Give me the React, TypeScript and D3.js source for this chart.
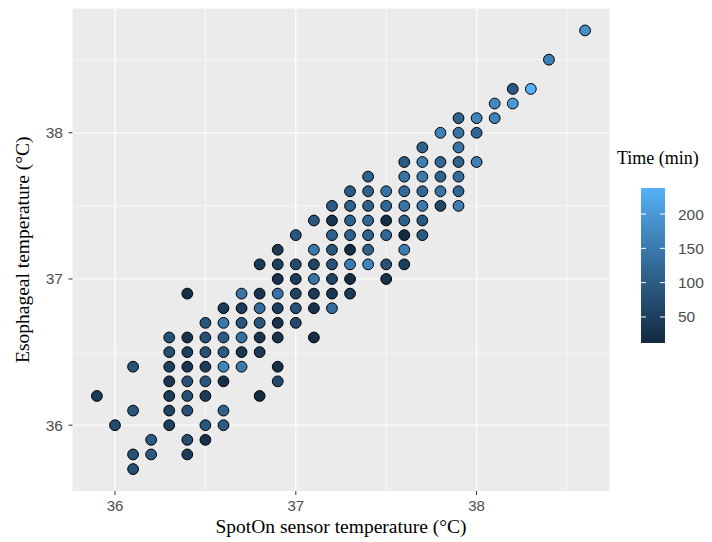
import * as d3 from "d3";

// esophageal temperature rows (°C), with spotOn readings and time (min) for each point in the row
const esoRows = [
  35.7, 35.8, 35.9, 36.0, 36.1, 36.2, 36.3, 36.4, 36.5, 36.6, 36.7, 36.8, 36.9,
  37.0, 37.1, 37.2, 37.3, 37.4, 37.5, 37.6, 37.7, 37.8, 37.9, 38.0, 38.1, 38.2,
  38.3, 38.5, 38.7,
];

const spotByRow = [
  [36.1],
  [36.1, 36.2, 36.4],
  [36.2, 36.4, 36.5],
  [36.0, 36.3, 36.5, 36.6],
  [36.1, 36.3, 36.4, 36.6],
  [35.9, 36.3, 36.4, 36.5, 36.8],
  [36.3, 36.4, 36.5, 36.6, 36.9],
  [36.1, 36.3, 36.4, 36.5, 36.6, 36.7, 36.9],
  [36.3, 36.4, 36.5, 36.6, 36.7, 36.8],
  [36.3, 36.4, 36.5, 36.6, 36.7, 36.8, 36.9, 37.1],
  [36.5, 36.6, 36.7, 36.8, 36.9, 37.0],
  [36.6, 36.7, 36.8, 36.9, 37.0, 37.1, 37.2],
  [36.4, 36.7, 36.8, 36.9, 37.0, 37.1, 37.2, 37.3],
  [36.9, 37.0, 37.1, 37.2, 37.3, 37.5],
  [36.8, 36.9, 37.0, 37.1, 37.2, 37.3, 37.4, 37.5, 37.6],
  [36.9, 37.1, 37.2, 37.3, 37.4, 37.6],
  [37.0, 37.2, 37.3, 37.4, 37.5, 37.6, 37.7],
  [37.1, 37.2, 37.3, 37.4, 37.5, 37.6, 37.7],
  [37.2, 37.3, 37.4, 37.5, 37.6, 37.7, 37.8, 37.9],
  [37.3, 37.4, 37.5, 37.6, 37.7, 37.8, 37.9],
  [37.4, 37.6, 37.7, 37.8, 37.9],
  [37.6, 37.7, 37.8, 37.9, 38.0],
  [37.7, 37.9],
  [37.8, 37.9, 38.0],
  [37.9, 38.0, 38.1],
  [38.1, 38.2],
  [38.2, 38.3],
  [38.4],
  [38.6],
];

const timeByRow = [
  [80],
  [80, 100, 45],
  [100, 75, 25],
  [70, 50, 90, 100],
  [90, 55, 80, 110],
  [40, 45, 80, 40, 15],
  [35, 80, 90, 20, 70],
  [85, 50, 30, 45, 170, 150, 20],
  [80, 50, 80, 100, 35, 40],
  [80, 25, 80, 100, 135, 30, 30, 18],
  [90, 150, 90, 90, 25, 70],
  [40, 40, 130, 50, 80, 25, 130],
  [20, 140, 30, 140, 55, 40, 35, 40],
  [25, 45, 145, 55, 15, 25],
  [40, 50, 70, 60, 85, 155, 170, 80, 50],
  [40, 150, 90, 15, 110, 160],
  [90, 110, 110, 110, 120, 12, 100],
  [90, 30, 110, 120, 18, 110, 90],
  [100, 110, 110, 120, 140, 150, 65, 160],
  [100, 110, 140, 130, 120, 140, 120],
  [110, 140, 150, 110, 130],
  [100, 160, 120, 110, 160],
  [110, 140],
  [165, 140, 120],
  [115, 170, 165],
  [175, 200],
  [100, 238],
  [165],
  [185],
];

const xTicks = [36, 37, 38];
const yTicks = [36, 37, 38];
const legendTicks = [50, 100, 150, 200];

const W = 712;
const H = 542;
const panel = { left: 72.5, right: 609.5, top: 8.5, bottom: 491 };
const sans = "'Liberation Sans', Arial, sans-serif";
const serif = "'Liberation Serif', 'Times New Roman', serif";
const tickCol = "#4D4D4D";

const points = esoRows.flatMap((eso, i) =>
  spotByRow[i].map((spot, j) => ({ spot, eso, time: timeByRow[i][j] }))
);

// ggplot-like 5% expansion
const expand = (ext: [number, number]) => {
  const pad = (ext[1] - ext[0]) * 0.05;
  return [ext[0] - pad, ext[1] + pad];
};

const App = () => {
  const x = d3
    .scaleLinear()
    .domain(expand(d3.extent(points, (d) => d.spot) as [number, number]))
    .range([panel.left, panel.right]);
  const y = d3
    .scaleLinear()
    .domain(expand(d3.extent(points, (d) => d.eso) as [number, number]))
    .range([panel.bottom, panel.top]);

  const tExt = d3.extent(points, (d) => d.time) as [number, number];
  const color = d3
    .scaleLinear<string>()
    .domain(tExt)
    .range(["#132B43", "#56B1F7"])
    .interpolate(d3.interpolateLab);

  // minor grid lines halfway between majors
  const xMinor = [35.5, 36.5, 37.5, 38.5].filter(
    (v) => v > x.domain()[0] && v < x.domain()[1]
  );
  const yMinor = [35.5, 36.5, 37.5, 38.5].filter(
    (v) => v > y.domain()[0] && v < y.domain()[1]
  );

  // legend colourbar
  const bar = { x: 641, w: 24, top: 188, bottom: 343 };
  const ly = d3.scaleLinear().domain(tExt).range([bar.bottom, bar.top]);
  const stops = d3.range(0, 1.0001, 0.1);

  return (
    <div style={{ position: "absolute", left: 0, top: 0 }}>
      <svg width={W} height={H} style={{ display: "block", background: "#fff" }}>
        <defs>
          <linearGradient id="tgrad" x1="0" y1="1" x2="0" y2="0">
            {stops.map((s) => (
              <stop key={s} offset={s} stopColor={color(tExt[0] + s * (tExt[1] - tExt[0]))} />
            ))}
          </linearGradient>
        </defs>

        <rect
          x={panel.left}
          y={panel.top}
          width={panel.right - panel.left}
          height={panel.bottom - panel.top}
          fill="#EBEBEB"
        />
        {xMinor.map((v) => (
          <line key={"xm" + v} x1={x(v)} x2={x(v)} y1={panel.top} y2={panel.bottom} stroke="#fff" strokeWidth={0.6} />
        ))}
        {yMinor.map((v) => (
          <line key={"ym" + v} x1={panel.left} x2={panel.right} y1={y(v)} y2={y(v)} stroke="#fff" strokeWidth={0.6} />
        ))}
        {xTicks.map((v) => (
          <line key={"xg" + v} x1={x(v)} x2={x(v)} y1={panel.top} y2={panel.bottom} stroke="#fff" strokeWidth={1.2} />
        ))}
        {yTicks.map((v) => (
          <line key={"yg" + v} x1={panel.left} x2={panel.right} y1={y(v)} y2={y(v)} stroke="#fff" strokeWidth={1.2} />
        ))}

        {points.map((d, i) => (
          <circle
            key={i}
            cx={x(d.spot)}
            cy={y(d.eso)}
            r={5.4}
            fill={color(d.time)}
            stroke="#000"
            strokeWidth={1}
          />
        ))}

        {/* axes */}
        {xTicks.map((v) => (
          <g key={"xt" + v}>
            <line x1={x(v)} x2={x(v)} y1={panel.bottom} y2={panel.bottom + 4} stroke="#333" strokeWidth={1} />
            <text x={x(v)} y={510.5} textAnchor="middle" fontFamily={sans} fontSize={15} fill={tickCol}>
              {v}
            </text>
          </g>
        ))}
        {yTicks.map((v) => (
          <g key={"yt" + v}>
            <line x1={panel.left - 4} x2={panel.left} y1={y(v)} y2={y(v)} stroke="#333" strokeWidth={1} />
            <text x={63} y={y(v) + 5.5} textAnchor="end" fontFamily={sans} fontSize={15.5} fill={tickCol}>
              {v}
            </text>
          </g>
        ))}

        <text
          x={(panel.left + panel.right) / 2}
          y={533}
          textAnchor="middle"
          fontFamily={serif}
          fontSize={19.5}
          fill="#000"
        >
          SpotOn sensor temperature (°C)
        </text>
        <text
          transform={`translate(28.5, ${(panel.top + panel.bottom) / 2}) rotate(-90)`}
          textAnchor="middle"
          fontFamily={serif}
          fontSize={19.5}
          fill="#000"
        >
          Esophageal temperature (°C)
        </text>

        {/* legend */}
        <text x={617} y={164} fontFamily={serif} fontSize={18} fill="#000">
          Time (min)
        </text>
        <rect x={bar.x} y={bar.top} width={bar.w} height={bar.bottom - bar.top} fill="url(#tgrad)" />
        {legendTicks.map((v) => (
          <g key={"lt" + v}>
            <line x1={bar.x} x2={bar.x + 5} y1={ly(v)} y2={ly(v)} stroke="#fff" strokeWidth={1} />
            <line x1={bar.x + bar.w - 5} x2={bar.x + bar.w} y1={ly(v)} y2={ly(v)} stroke="#fff" strokeWidth={1} />
            <text x={678} y={ly(v) + 5.5} fontFamily={sans} fontSize={15.5} fill={tickCol}>
              {v}
            </text>
          </g>
        ))}
      </svg>
    </div>
  );
};

export default App;
